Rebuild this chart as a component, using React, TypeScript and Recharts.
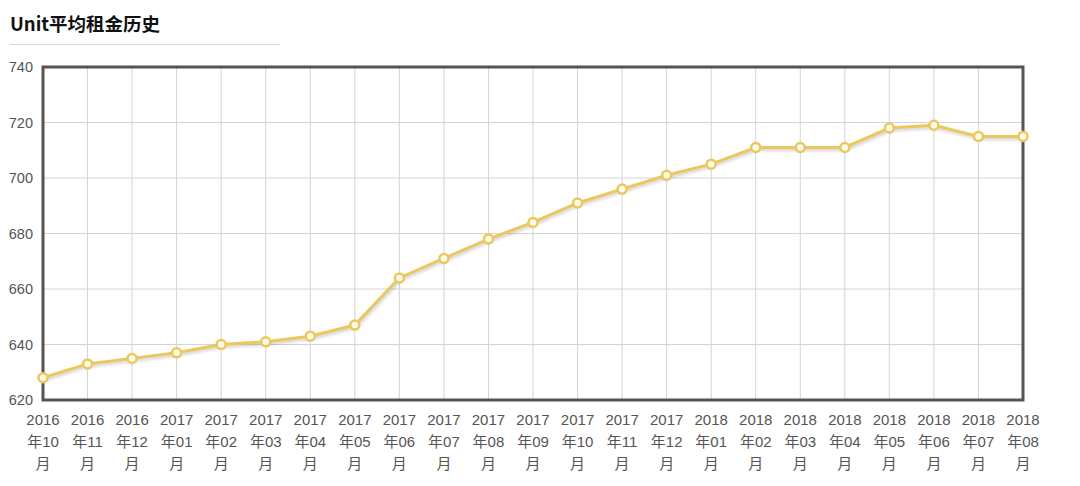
import { LineChart, Line, XAxis, YAxis, CartesianGrid, ReferenceArea } from "recharts";

const months = [
  "2016年10月", "2016年11月", "2016年12月",
  "2017年01月", "2017年02月", "2017年03月", "2017年04月", "2017年05月", "2017年06月",
  "2017年07月", "2017年08月", "2017年09月", "2017年10月", "2017年11月", "2017年12月",
  "2018年01月", "2018年02月", "2018年03月", "2018年04月", "2018年05月", "2018年06月",
  "2018年07月", "2018年08月",
];
const rents = [
  628, 633, 635, 637, 640, 641, 643, 647, 664, 671, 678, 684,
  691, 696, 701, 705, 711, 711, 711, 718, 719, 715, 715,
];
const yTicks = [620, 640, 660, 680, 700, 720, 740];

const chartData = months.map((m, i) => ({ month: m, rent: rents[i] }));

const FONT = '"Liberation Sans", Arial, "Noto Sans CJK SC", sans-serif';

// three-line month label: 2016 / 年10 / 月
function MonthTick({ x, y, payload }: any) {
  const s: string = payload.value;
  const lines = [s.slice(0, 4), s.slice(4, 7), s.slice(7)];
  return (
    <g transform={`translate(${x},${y})`}>
      {lines.map((t, i) => (
        <text
          key={i}
          x={0}
          y={17 + i * 22}
          textAnchor="middle"
          fill="#555"
          fontSize={15}
          fontFamily={FONT}
        >
          {t}
        </text>
      ))}
    </g>
  );
}

export default function App() {
  return (
    <div style={{ position: "relative", width: 1064, height: 470, background: "#fff" }}>
      <style>{`.recharts-line-curve { filter: drop-shadow(1px 2px 1.5px rgba(0,0,0,0.18)); }`}</style>
      <div
        style={{
          position: "absolute",
          left: 2,
          top: 3,
          fontFamily: '"Noto Sans CJK SC", sans-serif',
          fontWeight: 700,
          fontSize: 18.5,
          color: "#111",
          lineHeight: "24px",
        }}
      >
        Unit平均租金历史
      </div>
      <div
        style={{
          position: "absolute",
          left: 2,
          top: 36,
          width: 270,
          height: 1,
          background: "#ccd8e4",
        }}
      />
      <div style={{ position: "absolute", left: 0, top: 0 }}>
        <LineChart
          width={1064}
          height={470}
          data={chartData}
          margin={{ top: 59, right: 49, bottom: 8, left: 0 }}
        >
          <CartesianGrid stroke="#d4d4d4" strokeWidth={1} />
          <XAxis
            dataKey="month"
            interval={0}
            tickLine={false}
            axisLine={false}
            height={70}
            tick={<MonthTick />}
          />
          <YAxis
            domain={[620, 740]}
            ticks={yTicks}
            width={35}
            tickLine={false}
            axisLine={false}
            tick={{ fill: "#555", fontSize: 14.5, fontFamily: FONT }}
            tickMargin={4}
          />
          <ReferenceArea
            x1={months[0]}
            x2={months[months.length - 1]}
            y1={620}
            y2={740}
            fill="none"
            fillOpacity={0}
            stroke="#555"
            strokeWidth={3}
            strokeOpacity={1}
          />
          <Line
            type="linear"
            dataKey="rent"
            stroke="#ebc75e"
            strokeWidth={3}
            dot={{ r: 4.5, fill: "#fffbea", stroke: "#ebc75e", strokeWidth: 2.5 }}
            isAnimationActive={false}
          />
        </LineChart>
      </div>
    </div>
  );
}
